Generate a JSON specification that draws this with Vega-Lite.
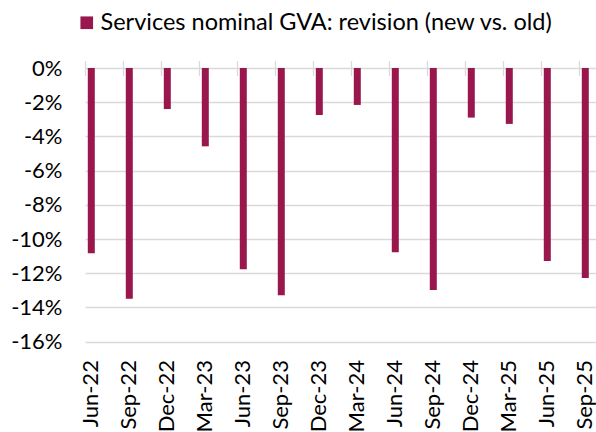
{
  "$schema": "https://vega.github.io/schema/vega-lite/v6.json",
  "autosize": {"type": "none"},
  "padding": {"left": 85, "top": 68, "right": 9, "bottom": 90.4},
  "width": 502,
  "height": 273.6,
  "background": "white",
  "config": {"view": {"stroke": null}},
  "data": {
    "values": [
      {"quarter": "Jun-22", "value": -10.84},
      {"quarter": "Sep-22", "value": -13.5},
      {"quarter": "Dec-22", "value": -2.4},
      {"quarter": "Mar-23", "value": -4.58},
      {"quarter": "Jun-23", "value": -11.77},
      {"quarter": "Sep-23", "value": -13.29},
      {"quarter": "Dec-23", "value": -2.75},
      {"quarter": "Mar-24", "value": -2.16},
      {"quarter": "Jun-24", "value": -10.78},
      {"quarter": "Sep-24", "value": -12.98},
      {"quarter": "Dec-24", "value": -2.9},
      {"quarter": "Mar-25", "value": -3.27},
      {"quarter": "Jun-25", "value": -11.29},
      {"quarter": "Sep-25", "value": -12.28}
    ]
  },
  "layer": [
    {
      "mark": {"type": "bar", "width": 7, "xOffset": -12.7},
      "encoding": {
        "x": {
          "field": "quarter", "type": "ordinal", "sort": null,
          "scale": {"range": [0, 532], "paddingInner": 0, "paddingOuter": 0},
          "axis": {
            "orient": "bottom", "title": null, "labelAngle": -90, "labelAlign": "right", "labelBaseline": "middle",
            "labelOffset": -12.7, "labelPadding": 18, "ticks": false, "domain": false, "grid": false,
            "labelFont": "Lato", "labelFontSize": 22, "labelColor": "#000"
          }
        },
        "y": {
          "field": "value", "type": "quantitative",
          "scale": {"domain": [-16, 0], "nice": false, "zero": true},
          "axis": {
            "title": null, "values": [-16, -14, -12, -10, -8, -6, -4, -2, 0],
            "labelExpr": "datum.value + '%'", "grid": true, "gridColor": "#d9d9d9", "gridWidth": 1.3,
            "domain": false, "ticks": false, "labelPadding": 23,
            "labelFont": "Lato", "labelFontSize": 22, "labelColor": "#000"
          }
        },
        "color": {
          "datum": "Services nominal GVA: revision (new vs. old)",
          "scale": {"range": ["#99174D"]},
          "legend": {
            "orient": "none", "legendX": -10, "legendY": -57, "title": null,
            "symbolType": "square", "symbolSize": 160, "symbolStrokeWidth": 0,
            "labelFont": "Lato", "labelFontSize": 23.5, "labelColor": "#000", "labelLimit": 0,
            "labelOffset": 2, "padding": 0
          }
        }
      }
    },
    {
      "mark": {"type": "rule", "strokeOpacity": 0},
      "encoding": {
        "x": {
          "field": "quarter", "type": "ordinal", "sort": null,
          "axis": {
            "orient": "top", "title": null, "labels": false, "ticks": true, "tickBand": "extent",
            "tickSize": 15, "offset": -7.5, "tickColor": "#d9d9d9", "tickWidth": 1.3,
            "domain": false, "grid": false
          }
        }
      }
    }
  ],
  "resolve": {"axis": {"x": "independent"}}
}
